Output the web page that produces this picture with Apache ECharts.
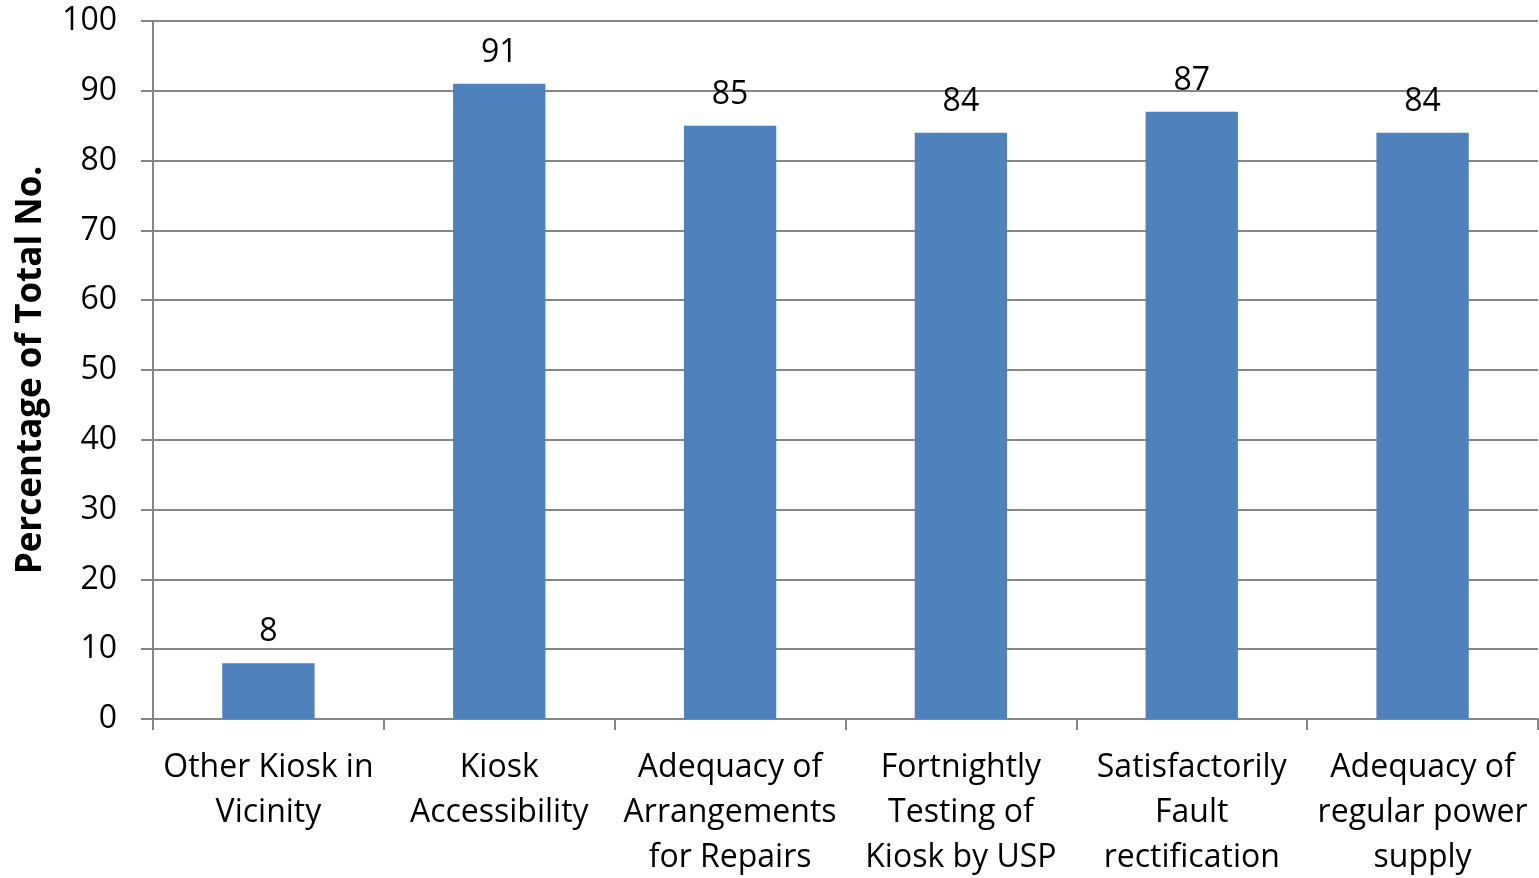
<!DOCTYPE html>
<html><head><meta charset="utf-8">
<script src="https://cdn.jsdelivr.net/npm/echarts@6/dist/echarts.min.js"></script>
<style>html,body{margin:0;padding:0;background:#fff}#c{width:1539px;height:878px}</style>
</head><body><div id="c"></div>
<script>
const categories = ["Other Kiosk in\nVicinity","Kiosk\nAccessibility","Adequacy of\nArrangements\nfor Repairs","Fortnightly\nTesting of\nKiosk by USP","Satisfactorily\nFault\nrectification","Adequacy of\nregular power\nsupply"];
const values = [8, 91, 85, 84, 87, 84];
const yTicks = [0, 10, 20, 30, 40, 50, 60, 70, 80, 90, 100];
const FONT = "Open Sans";
const chart = echarts.init(document.getElementById('c'));
chart.setOption({
  animation: false,
  textStyle: {fontFamily: FONT},
  grid: {left: 153, right: 1, top: 21, bottom: 159, outerBoundsMode: 'none', containLabel: false},
  xAxis: {
    type: 'category', data: categories,
    axisLine: {lineStyle: {color: '#868686', width: 2}},
    axisTick: {show: true, length: 11, lineStyle: {color: '#868686', width: 2}},
    axisLabel: {color: '#000', fontSize: 32, lineHeight: 45, margin: 26, interval: 0, fontFamily: FONT}
  },
  yAxis: {
    type: 'value', min: yTicks[0], max: yTicks[yTicks.length-1], interval: 10,
    name: 'Percentage of Total No.', nameLocation: 'middle', nameGap: 104,
    nameTextStyle: {fontSize: 35, fontWeight: 'bold', color: '#000', fontFamily: FONT},
    axisLine: {show: true, lineStyle: {color: '#868686', width: 2}},
    axisTick: {show: true, length: 12, lineStyle: {color: '#868686', width: 2}},
    axisLabel: {color: '#000', fontSize: 32, margin: 36, fontFamily: FONT},
    splitLine: {lineStyle: {color: '#868686', width: 2}}
  },
  series: [{
    type: 'bar', data: values, barWidth: '40%',
    itemStyle: {color: '#4F81BD'},
    label: {show: true, position: 'top', distance: 15, color: '#000', fontSize: 32, fontFamily: FONT}
  }]
});
</script></body></html>
